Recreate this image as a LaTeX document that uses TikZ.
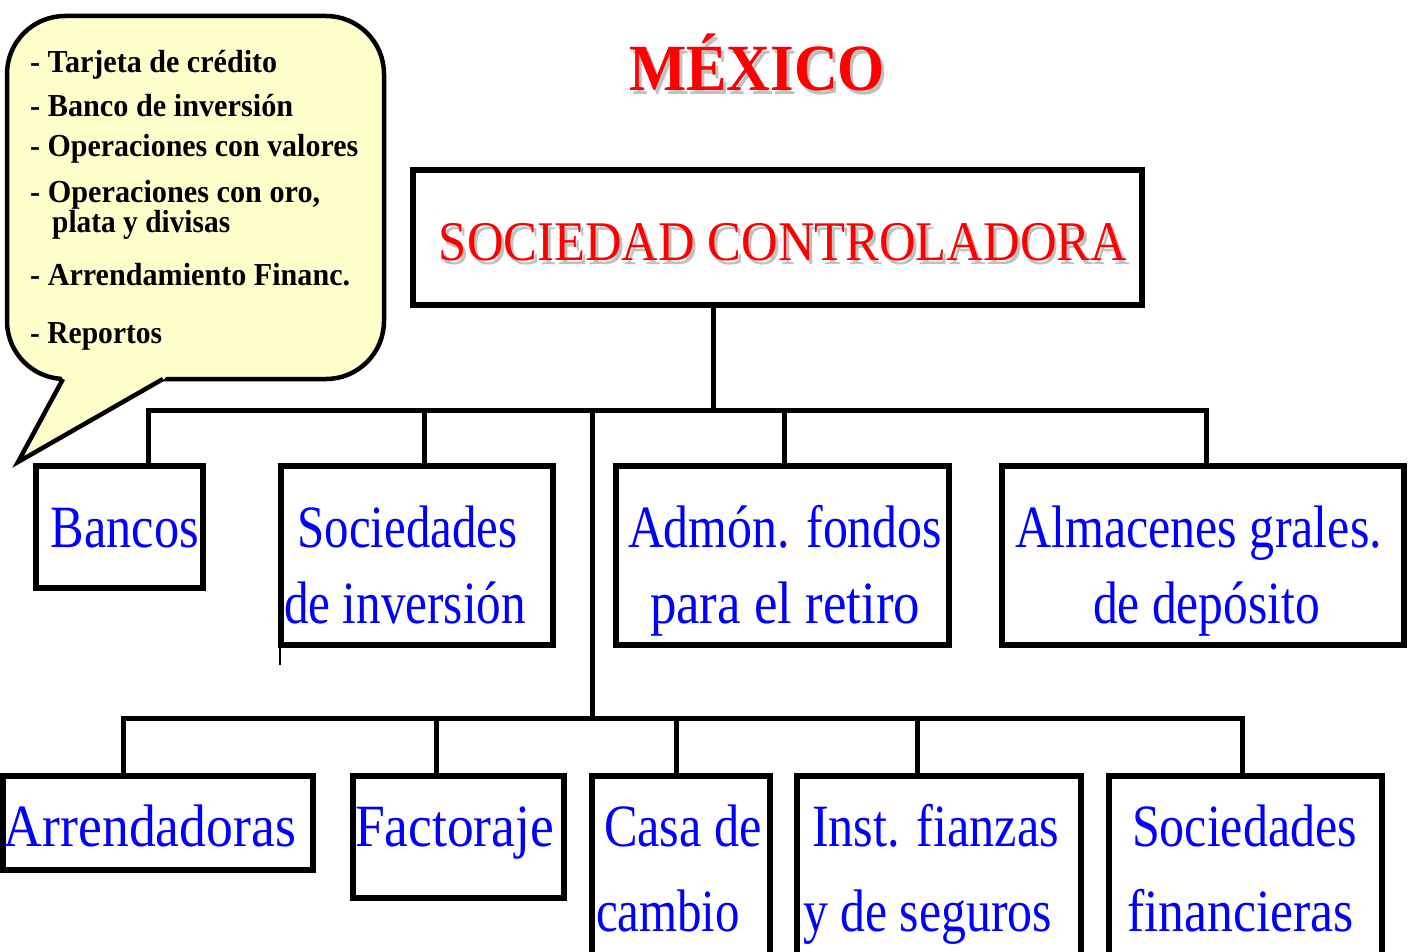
\documentclass[tikz,border=0pt]{standalone}
\usepackage{fontspec}
\usepackage{graphicx}
\setmainfont{Liberation Serif}
\definecolor{callout}{HTML}{FFFFCC}
\definecolor{shadowgray}{HTML}{C0C0C0}
\definecolor{txtblue}{HTML}{0000FF}
\definecolor{txtred}{HTML}{FF0000}
\newcommand{\fw}[2]{\resizebox{#1pt}{\height}{#2}}
\newcommand{\shadowed}[1]{\makebox[0pt][l]{\hspace*{3pt}\raisebox{-4pt}{\textcolor{shadowgray}{#1}}}#1}
\begin{document}
\begin{tikzpicture}[x=1pt,y=-1pt,
  box/.style={draw=black, line width=6pt, inner sep=0pt},
  conn/.style={line width=5pt, line join=miter},
  btxt/.style={anchor=base, inner sep=0pt, text=txtblue, font=\fontsize{60}{60}\selectfont},
  ctxt/.style={anchor=base west, inner sep=0pt, text=black, font=\fontsize{32}{32}\selectfont\bfseries},
  rtxt/.style={anchor=base, inner sep=0pt, text=txtred}]
\useasboundingbox (0,0) rectangle (1408,952);

% callout
\draw[line width=4.5pt, fill=callout, rounded corners=58pt] (7,16) rectangle (384,379);
\fill[callout] (61,375) -- (168,375) -- (163,380) -- (18,462) -- (63,380) -- cycle;
\draw[line width=4.5pt, line join=miter] (63,379) -- (18,462) -- (163,379);
\node[ctxt] (c1) at (30,73) {\fw{247}{- Tarjeta de crédito}};
\node[ctxt] (c2) at (30,117) {\fw{263}{- Banco de inversión}};
\node[ctxt] (c3) at (30,157) {\fw{328}{- Operaciones con valores}};
\node[ctxt] (c4) at (30,203) {\fw{290}{- Operaciones con oro,}};
\node[ctxt] (c5) at (52,233) {\fw{178}{plata y divisas}};
\node[ctxt] (c6) at (30,285) {\fw{320}{- Arrendamiento Financ.}};
\node[ctxt] (c7) at (30,343) {\fw{132}{- Reportos}};

% title
\node[rtxt, font=\fontsize{66}{66}\selectfont\bfseries] (mex) at (757,91) {\shadowed{\fw{256}{MÉXICO}}};

% boxes
\node[box, minimum width=729pt, minimum height=135pt] (top) at (777.5,237.5) {};
\node[box, minimum width=167pt, minimum height=122pt] (bancos) at (119.5,527) {};
\node[box, minimum width=272pt, minimum height=179pt] (socinv) at (417,555.5) {};
\node[box, minimum width=333pt, minimum height=179pt] (admon) at (782.5,555.5) {};
\node[box, minimum width=402pt, minimum height=179pt] (almac) at (1203,555.5) {};
\node[box, minimum width=310pt, minimum height=94pt] (arrend) at (158,823) {};
\node[box, minimum width=211pt, minimum height=122pt] (factor) at (458.5,837) {};
\node[box, minimum width=178pt, minimum height=221pt] (casa) at (681,886.5) {};
\node[box, minimum width=284pt, minimum height=221pt] (inst) at (939,886.5) {};
\node[box, minimum width=273pt, minimum height=221pt] (socfin) at (1245.5,886.5) {};

% connectors
\coordinate (j0) at (713,410);
\draw[conn] (top.south -| j0) -- (j0);
\coordinate (b1a) at (148,410);
\coordinate (b1b) at (1206,410);
\coordinate (b1c) at (424,410);
\coordinate (b1d) at (784,410);
\draw[conn] (b1a |- bancos.north) -- (b1a) -- (b1b) -- (b1b |- almac.north);
\draw[conn] (b1c) -- (b1c |- socinv.north);
\draw[conn] (b1d) -- (b1d |- admon.north);
\coordinate (tr) at (592,410);
\coordinate (b2t) at (592,718);
\draw[conn] (tr) -- (b2t);
\coordinate (b2a) at (123,718);
\coordinate (b2b) at (436,718);
\coordinate (b2c) at (676,718);
\coordinate (b2d) at (917,718);
\coordinate (b2e) at (1242,718);
\draw[conn] (b2a |- arrend.north) -- (b2a) -- (b2e) -- (b2e |- socfin.north);
\draw[conn] (b2b) -- (b2b |- factor.north);
\draw[conn] (b2c) -- (b2c |- casa.north);
\draw[conn] (b2d) -- (b2d |- inst.north);
\coordinate (st) at (280,665);
\draw[line width=2.5pt] (st |- socinv.south) -- (st);

% box texts
\node[rtxt, font=\fontsize{56}{56}\selectfont] (sc) at (783,260) {\shadowed{\fw{688}{SOCIEDAD CONTROLADORA}}};
\node[btxt] (t1) at (125,547) {\fw{148}{Bancos}};
\node[btxt] (t2) at (407.5,547) {\fw{220}{Sociedades}};
\node[btxt] (t3) at (405,623) {\fw{242}{de inversión}};
\node[btxt] (t4) at (785,547) {\fw{314}{Admón. fondos}};
\node[btxt] (t5) at (785,623) {\fw{270}{para el retiro}};
\node[btxt] (t6) at (1198.5,547) {\fw{367}{Almacenes grales.}};
\node[btxt] (t7) at (1206.5,623) {\fw{227}{de depósito}};
\node[btxt] (t8) at (150,846) {\fw{292}{Arrendadoras}};
\node[btxt] (t9) at (454.5,846) {\fw{199}{Factoraje}};
\node[btxt] (t10) at (683,846) {\fw{158}{Casa de}};
\node[btxt] (t11) at (668,931) {\fw{144}{cambio}};
\node[btxt] (t12) at (935.5,846) {\fw{247}{Inst. fianzas}};
\node[btxt] (t13) at (927.5,931) {\fw{249}{y de seguros}};
\node[btxt] (t14) at (1244.5,846) {\fw{225}{Sociedades}};
\node[btxt] (t15) at (1240.5,931) {\fw{227}{financieras}};
\end{tikzpicture}
\end{document}
